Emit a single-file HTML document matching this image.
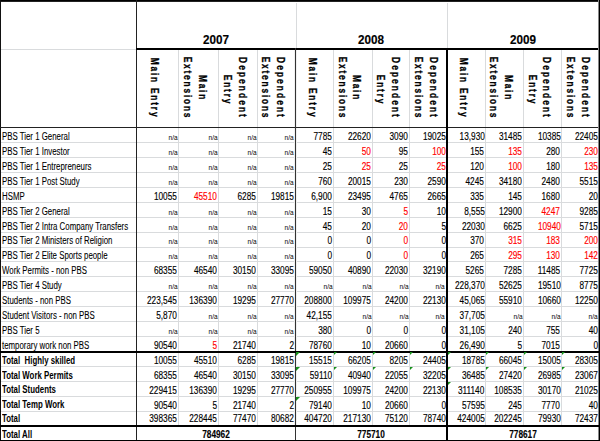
<!DOCTYPE html>
<html><head><meta charset="utf-8"><style>
html,body{margin:0;padding:0;background:#fff;width:600px;height:441px;overflow:hidden;position:relative}
body>div{position:absolute}
.t{font-family:"Liberation Sans", sans-serif;white-space:nowrap;-webkit-text-stroke:0.15px currentColor}
.rot{font-weight:700;line-height:0;transform-origin:0 0;transform:rotate(90deg) scaleX(0.72) translate(-50%,0);letter-spacing:2.45px;-webkit-text-stroke:0.3px currentColor}
</style></head><body>
<div style="left:0px;top:142px;width:600px;height:1px;background:#d9dbdd"></div>
<div style="left:0px;top:157px;width:600px;height:1px;background:#d9dbdd"></div>
<div style="left:0px;top:172px;width:600px;height:1px;background:#d9dbdd"></div>
<div style="left:0px;top:187px;width:600px;height:1px;background:#d9dbdd"></div>
<div style="left:0px;top:202px;width:600px;height:1px;background:#d9dbdd"></div>
<div style="left:0px;top:217px;width:600px;height:1px;background:#d9dbdd"></div>
<div style="left:0px;top:232px;width:600px;height:1px;background:#d9dbdd"></div>
<div style="left:0px;top:247px;width:600px;height:1px;background:#d9dbdd"></div>
<div style="left:0px;top:261px;width:600px;height:1px;background:#d9dbdd"></div>
<div style="left:0px;top:276px;width:600px;height:1px;background:#d9dbdd"></div>
<div style="left:0px;top:291px;width:600px;height:1px;background:#d9dbdd"></div>
<div style="left:0px;top:306px;width:600px;height:1px;background:#d9dbdd"></div>
<div style="left:0px;top:321px;width:600px;height:1px;background:#d9dbdd"></div>
<div style="left:0px;top:336px;width:600px;height:1px;background:#d9dbdd"></div>
<div style="left:0px;top:366px;width:600px;height:1px;background:#d9dbdd"></div>
<div style="left:0px;top:381px;width:600px;height:1px;background:#d9dbdd"></div>
<div style="left:0px;top:396px;width:600px;height:1px;background:#d9dbdd"></div>
<div style="left:0px;top:411px;width:600px;height:1px;background:#d9dbdd"></div>
<div style="left:1px;top:49px;width:135px;height:1px;background:#d9dbdd"></div>
<div style="left:296px;top:3px;width:1px;height:45px;background:#d9dbdd"></div>
<div style="left:447px;top:3px;width:1px;height:45px;background:#d9dbdd"></div>
<div style="left:178px;top:50px;width:1px;height:375px;background:#d9dbdd"></div>
<div style="left:218px;top:50px;width:1px;height:375px;background:#d9dbdd"></div>
<div style="left:257px;top:50px;width:1px;height:375px;background:#d9dbdd"></div>
<div style="left:333px;top:50px;width:1px;height:375px;background:#d9dbdd"></div>
<div style="left:372px;top:50px;width:1px;height:375px;background:#d9dbdd"></div>
<div style="left:409px;top:50px;width:1px;height:375px;background:#d9dbdd"></div>
<div style="left:485px;top:50px;width:1px;height:375px;background:#d9dbdd"></div>
<div style="left:523px;top:50px;width:1px;height:375px;background:#d9dbdd"></div>
<div style="left:561px;top:50px;width:1px;height:375px;background:#d9dbdd"></div>
<div style="left:294px;top:50px;width:1px;height:375px;background:#f0f0f0"></div>
<div style="left:296px;top:50px;width:1px;height:375px;background:#f0f0f0"></div>
<div style="left:0px;top:0px;width:600px;height:1px;background:#000"></div>
<div style="left:0px;top:1px;width:600px;height:1px;background:#222"></div>
<div style="left:0px;top:0px;width:1px;height:441px;background:#111"></div>
<div style="left:136px;top:0px;width:1px;height:441px;background:#222"></div>
<div style="left:136px;top:48px;width:464px;height:2px;background:#000"></div>
<div style="left:0px;top:127px;width:600px;height:1px;background:#222"></div>
<div style="left:295px;top:48px;width:1px;height:393px;background:#333"></div>
<div style="left:446px;top:48px;width:2px;height:393px;background:#000"></div>
<div style="left:599px;top:0px;width:1px;height:441px;background:#000"></div>
<div style="left:598px;top:0px;width:1px;height:441px;background:#888"></div>
<div style="left:0px;top:351px;width:600px;height:2px;background:#000"></div>
<div style="left:0px;top:425px;width:600px;height:2px;background:#000"></div>
<div style="left:0px;top:440px;width:600px;height:1px;background:#000"></div>
<div class="t" style="left:1.5px;top:130.94px;font-size:10.0px;line-height:11.5px;font-weight:400;color:#000;transform:scaleX(0.785);transform-origin:0 0;-webkit-text-stroke:0.08px currentColor">PBS Tier 1 General</div>
<div class="t" style="right:422.7px;top:133.83px;font-size:7.7px;line-height:8.85px;font-weight:400;color:#000;transform:scaleX(0.85);transform-origin:100% 0;-webkit-text-stroke:0px currentColor">n/a</div>
<div class="t" style="right:382.7px;top:133.83px;font-size:7.7px;line-height:8.85px;font-weight:400;color:#000;transform:scaleX(0.85);transform-origin:100% 0;-webkit-text-stroke:0px currentColor">n/a</div>
<div class="t" style="right:343.3px;top:133.83px;font-size:7.7px;line-height:8.85px;font-weight:400;color:#000;transform:scaleX(0.85);transform-origin:100% 0;-webkit-text-stroke:0px currentColor">n/a</div>
<div class="t" style="right:306.8px;top:133.83px;font-size:7.7px;line-height:8.85px;font-weight:400;color:#000;transform:scaleX(0.85);transform-origin:100% 0;-webkit-text-stroke:0px currentColor">n/a</div>
<div class="t" style="right:268.0px;top:130.27px;font-size:10.75px;line-height:12.36px;font-weight:400;color:#000;transform:scaleX(0.77);transform-origin:100% 0">7785</div>
<div class="t" style="right:229.3px;top:130.27px;font-size:10.75px;line-height:12.36px;font-weight:400;color:#000;transform:scaleX(0.77);transform-origin:100% 0">22620</div>
<div class="t" style="right:192.0px;top:130.27px;font-size:10.75px;line-height:12.36px;font-weight:400;color:#000;transform:scaleX(0.77);transform-origin:100% 0">3090</div>
<div class="t" style="right:154.5px;top:130.27px;font-size:10.75px;line-height:12.36px;font-weight:400;color:#000;transform:scaleX(0.77);transform-origin:100% 0">19025</div>
<div class="t" style="right:115.60000000000002px;top:130.27px;font-size:10.75px;line-height:12.36px;font-weight:400;color:#000;transform:scaleX(0.77);transform-origin:100% 0">13,930</div>
<div class="t" style="right:78.0px;top:130.27px;font-size:10.75px;line-height:12.36px;font-weight:400;color:#000;transform:scaleX(0.77);transform-origin:100% 0">31485</div>
<div class="t" style="right:39.60000000000002px;top:130.27px;font-size:10.75px;line-height:12.36px;font-weight:400;color:#000;transform:scaleX(0.77);transform-origin:100% 0">10385</div>
<div class="t" style="right:2.5px;top:130.27px;font-size:10.75px;line-height:12.36px;font-weight:400;color:#000;transform:scaleX(0.77);transform-origin:100% 0">22405</div>
<div class="t" style="left:1.5px;top:145.94px;font-size:10.0px;line-height:11.5px;font-weight:400;color:#000;transform:scaleX(0.785);transform-origin:0 0;-webkit-text-stroke:0.08px currentColor">PBS Tier 1 Investor</div>
<div class="t" style="right:422.7px;top:148.83px;font-size:7.7px;line-height:8.85px;font-weight:400;color:#000;transform:scaleX(0.85);transform-origin:100% 0;-webkit-text-stroke:0px currentColor">n/a</div>
<div class="t" style="right:382.7px;top:148.83px;font-size:7.7px;line-height:8.85px;font-weight:400;color:#000;transform:scaleX(0.85);transform-origin:100% 0;-webkit-text-stroke:0px currentColor">n/a</div>
<div class="t" style="right:343.3px;top:148.83px;font-size:7.7px;line-height:8.85px;font-weight:400;color:#000;transform:scaleX(0.85);transform-origin:100% 0;-webkit-text-stroke:0px currentColor">n/a</div>
<div class="t" style="right:306.8px;top:148.83px;font-size:7.7px;line-height:8.85px;font-weight:400;color:#000;transform:scaleX(0.85);transform-origin:100% 0;-webkit-text-stroke:0px currentColor">n/a</div>
<div class="t" style="right:268.0px;top:145.27px;font-size:10.75px;line-height:12.36px;font-weight:400;color:#000;transform:scaleX(0.77);transform-origin:100% 0">45</div>
<div class="t" style="right:229.3px;top:145.27px;font-size:10.75px;line-height:12.36px;font-weight:400;color:#ff0000;transform:scaleX(0.77);transform-origin:100% 0">50</div>
<div class="t" style="right:192.0px;top:145.27px;font-size:10.75px;line-height:12.36px;font-weight:400;color:#000;transform:scaleX(0.77);transform-origin:100% 0">95</div>
<div class="t" style="right:154.5px;top:145.27px;font-size:10.75px;line-height:12.36px;font-weight:400;color:#ff0000;transform:scaleX(0.77);transform-origin:100% 0">100</div>
<div class="t" style="right:115.60000000000002px;top:145.27px;font-size:10.75px;line-height:12.36px;font-weight:400;color:#000;transform:scaleX(0.77);transform-origin:100% 0">155</div>
<div class="t" style="right:78.0px;top:145.27px;font-size:10.75px;line-height:12.36px;font-weight:400;color:#ff0000;transform:scaleX(0.77);transform-origin:100% 0">135</div>
<div class="t" style="right:39.60000000000002px;top:145.27px;font-size:10.75px;line-height:12.36px;font-weight:400;color:#000;transform:scaleX(0.77);transform-origin:100% 0">280</div>
<div class="t" style="right:2.5px;top:145.27px;font-size:10.75px;line-height:12.36px;font-weight:400;color:#ff0000;transform:scaleX(0.77);transform-origin:100% 0">230</div>
<div class="t" style="left:1.5px;top:160.94px;font-size:10.0px;line-height:11.5px;font-weight:400;color:#000;transform:scaleX(0.785);transform-origin:0 0;-webkit-text-stroke:0.08px currentColor">PBS Tier 1 Entrepreneurs</div>
<div class="t" style="right:422.7px;top:163.83px;font-size:7.7px;line-height:8.85px;font-weight:400;color:#000;transform:scaleX(0.85);transform-origin:100% 0;-webkit-text-stroke:0px currentColor">n/a</div>
<div class="t" style="right:382.7px;top:163.83px;font-size:7.7px;line-height:8.85px;font-weight:400;color:#000;transform:scaleX(0.85);transform-origin:100% 0;-webkit-text-stroke:0px currentColor">n/a</div>
<div class="t" style="right:343.3px;top:163.83px;font-size:7.7px;line-height:8.85px;font-weight:400;color:#000;transform:scaleX(0.85);transform-origin:100% 0;-webkit-text-stroke:0px currentColor">n/a</div>
<div class="t" style="right:306.8px;top:163.83px;font-size:7.7px;line-height:8.85px;font-weight:400;color:#000;transform:scaleX(0.85);transform-origin:100% 0;-webkit-text-stroke:0px currentColor">n/a</div>
<div class="t" style="right:268.0px;top:160.27px;font-size:10.75px;line-height:12.36px;font-weight:400;color:#000;transform:scaleX(0.77);transform-origin:100% 0">25</div>
<div class="t" style="right:229.3px;top:160.27px;font-size:10.75px;line-height:12.36px;font-weight:400;color:#ff0000;transform:scaleX(0.77);transform-origin:100% 0">25</div>
<div class="t" style="right:192.0px;top:160.27px;font-size:10.75px;line-height:12.36px;font-weight:400;color:#000;transform:scaleX(0.77);transform-origin:100% 0">25</div>
<div class="t" style="right:154.5px;top:160.27px;font-size:10.75px;line-height:12.36px;font-weight:400;color:#ff0000;transform:scaleX(0.77);transform-origin:100% 0">25</div>
<div class="t" style="right:115.60000000000002px;top:160.27px;font-size:10.75px;line-height:12.36px;font-weight:400;color:#000;transform:scaleX(0.77);transform-origin:100% 0">120</div>
<div class="t" style="right:78.0px;top:160.27px;font-size:10.75px;line-height:12.36px;font-weight:400;color:#ff0000;transform:scaleX(0.77);transform-origin:100% 0">100</div>
<div class="t" style="right:39.60000000000002px;top:160.27px;font-size:10.75px;line-height:12.36px;font-weight:400;color:#000;transform:scaleX(0.77);transform-origin:100% 0">180</div>
<div class="t" style="right:2.5px;top:160.27px;font-size:10.75px;line-height:12.36px;font-weight:400;color:#ff0000;transform:scaleX(0.77);transform-origin:100% 0">135</div>
<div class="t" style="left:1.5px;top:175.94px;font-size:10.0px;line-height:11.5px;font-weight:400;color:#000;transform:scaleX(0.785);transform-origin:0 0;-webkit-text-stroke:0.08px currentColor">PBS Tier 1 Post Study</div>
<div class="t" style="right:422.7px;top:178.83px;font-size:7.7px;line-height:8.85px;font-weight:400;color:#000;transform:scaleX(0.85);transform-origin:100% 0;-webkit-text-stroke:0px currentColor">n/a</div>
<div class="t" style="right:382.7px;top:178.83px;font-size:7.7px;line-height:8.85px;font-weight:400;color:#000;transform:scaleX(0.85);transform-origin:100% 0;-webkit-text-stroke:0px currentColor">n/a</div>
<div class="t" style="right:343.3px;top:178.83px;font-size:7.7px;line-height:8.85px;font-weight:400;color:#000;transform:scaleX(0.85);transform-origin:100% 0;-webkit-text-stroke:0px currentColor">n/a</div>
<div class="t" style="right:306.8px;top:178.83px;font-size:7.7px;line-height:8.85px;font-weight:400;color:#000;transform:scaleX(0.85);transform-origin:100% 0;-webkit-text-stroke:0px currentColor">n/a</div>
<div class="t" style="right:268.0px;top:175.27px;font-size:10.75px;line-height:12.36px;font-weight:400;color:#000;transform:scaleX(0.77);transform-origin:100% 0">760</div>
<div class="t" style="right:229.3px;top:175.27px;font-size:10.75px;line-height:12.36px;font-weight:400;color:#000;transform:scaleX(0.77);transform-origin:100% 0">20015</div>
<div class="t" style="right:192.0px;top:175.27px;font-size:10.75px;line-height:12.36px;font-weight:400;color:#000;transform:scaleX(0.77);transform-origin:100% 0">230</div>
<div class="t" style="right:154.5px;top:175.27px;font-size:10.75px;line-height:12.36px;font-weight:400;color:#000;transform:scaleX(0.77);transform-origin:100% 0">2590</div>
<div class="t" style="right:115.60000000000002px;top:175.27px;font-size:10.75px;line-height:12.36px;font-weight:400;color:#000;transform:scaleX(0.77);transform-origin:100% 0">4245</div>
<div class="t" style="right:78.0px;top:175.27px;font-size:10.75px;line-height:12.36px;font-weight:400;color:#000;transform:scaleX(0.77);transform-origin:100% 0">34180</div>
<div class="t" style="right:39.60000000000002px;top:175.27px;font-size:10.75px;line-height:12.36px;font-weight:400;color:#000;transform:scaleX(0.77);transform-origin:100% 0">2480</div>
<div class="t" style="right:2.5px;top:175.27px;font-size:10.75px;line-height:12.36px;font-weight:400;color:#000;transform:scaleX(0.77);transform-origin:100% 0">5515</div>
<div class="t" style="left:1.5px;top:190.94px;font-size:10.0px;line-height:11.5px;font-weight:400;color:#000;transform:scaleX(0.785);transform-origin:0 0;-webkit-text-stroke:0.08px currentColor">HSMP</div>
<div class="t" style="right:423.2px;top:190.27px;font-size:10.75px;line-height:12.36px;font-weight:400;color:#000;transform:scaleX(0.77);transform-origin:100% 0">10055</div>
<div class="t" style="right:383.2px;top:190.27px;font-size:10.75px;line-height:12.36px;font-weight:400;color:#ff0000;transform:scaleX(0.77);transform-origin:100% 0">45510</div>
<div class="t" style="right:343.8px;top:190.27px;font-size:10.75px;line-height:12.36px;font-weight:400;color:#000;transform:scaleX(0.77);transform-origin:100% 0">6285</div>
<div class="t" style="right:306.0px;top:190.27px;font-size:10.75px;line-height:12.36px;font-weight:400;color:#000;transform:scaleX(0.77);transform-origin:100% 0">19815</div>
<div class="t" style="right:268.0px;top:190.27px;font-size:10.75px;line-height:12.36px;font-weight:400;color:#000;transform:scaleX(0.77);transform-origin:100% 0">6,900</div>
<div class="t" style="right:229.3px;top:190.27px;font-size:10.75px;line-height:12.36px;font-weight:400;color:#000;transform:scaleX(0.77);transform-origin:100% 0">23495</div>
<div class="t" style="right:192.0px;top:190.27px;font-size:10.75px;line-height:12.36px;font-weight:400;color:#000;transform:scaleX(0.77);transform-origin:100% 0">4765</div>
<div class="t" style="right:154.5px;top:190.27px;font-size:10.75px;line-height:12.36px;font-weight:400;color:#000;transform:scaleX(0.77);transform-origin:100% 0">2665</div>
<div class="t" style="right:115.60000000000002px;top:190.27px;font-size:10.75px;line-height:12.36px;font-weight:400;color:#000;transform:scaleX(0.77);transform-origin:100% 0">335</div>
<div class="t" style="right:78.0px;top:190.27px;font-size:10.75px;line-height:12.36px;font-weight:400;color:#000;transform:scaleX(0.77);transform-origin:100% 0">145</div>
<div class="t" style="right:39.60000000000002px;top:190.27px;font-size:10.75px;line-height:12.36px;font-weight:400;color:#000;transform:scaleX(0.77);transform-origin:100% 0">1680</div>
<div class="t" style="right:2.5px;top:190.27px;font-size:10.75px;line-height:12.36px;font-weight:400;color:#000;transform:scaleX(0.77);transform-origin:100% 0">20</div>
<div class="t" style="left:1.5px;top:205.94px;font-size:10.0px;line-height:11.5px;font-weight:400;color:#000;transform:scaleX(0.785);transform-origin:0 0;-webkit-text-stroke:0.08px currentColor">PBS Tier 2 General</div>
<div class="t" style="right:422.7px;top:208.83px;font-size:7.7px;line-height:8.85px;font-weight:400;color:#000;transform:scaleX(0.85);transform-origin:100% 0;-webkit-text-stroke:0px currentColor">n/a</div>
<div class="t" style="right:382.7px;top:208.83px;font-size:7.7px;line-height:8.85px;font-weight:400;color:#000;transform:scaleX(0.85);transform-origin:100% 0;-webkit-text-stroke:0px currentColor">n/a</div>
<div class="t" style="right:343.3px;top:208.83px;font-size:7.7px;line-height:8.85px;font-weight:400;color:#000;transform:scaleX(0.85);transform-origin:100% 0;-webkit-text-stroke:0px currentColor">n/a</div>
<div class="t" style="right:306.8px;top:208.83px;font-size:7.7px;line-height:8.85px;font-weight:400;color:#000;transform:scaleX(0.85);transform-origin:100% 0;-webkit-text-stroke:0px currentColor">n/a</div>
<div class="t" style="right:268.0px;top:205.27px;font-size:10.75px;line-height:12.36px;font-weight:400;color:#000;transform:scaleX(0.77);transform-origin:100% 0">15</div>
<div class="t" style="right:229.3px;top:205.27px;font-size:10.75px;line-height:12.36px;font-weight:400;color:#000;transform:scaleX(0.77);transform-origin:100% 0">30</div>
<div class="t" style="right:192.0px;top:205.27px;font-size:10.75px;line-height:12.36px;font-weight:400;color:#ff0000;transform:scaleX(0.77);transform-origin:100% 0">5</div>
<div class="t" style="right:154.5px;top:205.27px;font-size:10.75px;line-height:12.36px;font-weight:400;color:#000;transform:scaleX(0.77);transform-origin:100% 0">10</div>
<div class="t" style="right:115.60000000000002px;top:205.27px;font-size:10.75px;line-height:12.36px;font-weight:400;color:#000;transform:scaleX(0.77);transform-origin:100% 0">8,555</div>
<div class="t" style="right:78.0px;top:205.27px;font-size:10.75px;line-height:12.36px;font-weight:400;color:#000;transform:scaleX(0.77);transform-origin:100% 0">12900</div>
<div class="t" style="right:39.60000000000002px;top:205.27px;font-size:10.75px;line-height:12.36px;font-weight:400;color:#ff0000;transform:scaleX(0.77);transform-origin:100% 0">4247</div>
<div class="t" style="right:2.5px;top:205.27px;font-size:10.75px;line-height:12.36px;font-weight:400;color:#000;transform:scaleX(0.77);transform-origin:100% 0">9285</div>
<div class="t" style="left:1.5px;top:220.94px;font-size:10.0px;line-height:11.5px;font-weight:400;color:#000;transform:scaleX(0.785);transform-origin:0 0;-webkit-text-stroke:0.08px currentColor">PBS Tier 2 Intra Company Transfers</div>
<div class="t" style="right:422.7px;top:223.83px;font-size:7.7px;line-height:8.85px;font-weight:400;color:#000;transform:scaleX(0.85);transform-origin:100% 0;-webkit-text-stroke:0px currentColor">n/a</div>
<div class="t" style="right:382.7px;top:223.83px;font-size:7.7px;line-height:8.85px;font-weight:400;color:#000;transform:scaleX(0.85);transform-origin:100% 0;-webkit-text-stroke:0px currentColor">n/a</div>
<div class="t" style="right:343.3px;top:223.83px;font-size:7.7px;line-height:8.85px;font-weight:400;color:#000;transform:scaleX(0.85);transform-origin:100% 0;-webkit-text-stroke:0px currentColor">n/a</div>
<div class="t" style="right:306.8px;top:223.83px;font-size:7.7px;line-height:8.85px;font-weight:400;color:#000;transform:scaleX(0.85);transform-origin:100% 0;-webkit-text-stroke:0px currentColor">n/a</div>
<div class="t" style="right:268.0px;top:220.27px;font-size:10.75px;line-height:12.36px;font-weight:400;color:#000;transform:scaleX(0.77);transform-origin:100% 0">45</div>
<div class="t" style="right:229.3px;top:220.27px;font-size:10.75px;line-height:12.36px;font-weight:400;color:#000;transform:scaleX(0.77);transform-origin:100% 0">20</div>
<div class="t" style="right:192.0px;top:220.27px;font-size:10.75px;line-height:12.36px;font-weight:400;color:#ff0000;transform:scaleX(0.77);transform-origin:100% 0">20</div>
<div class="t" style="right:154.5px;top:220.27px;font-size:10.75px;line-height:12.36px;font-weight:400;color:#000;transform:scaleX(0.77);transform-origin:100% 0">5</div>
<div class="t" style="right:115.60000000000002px;top:220.27px;font-size:10.75px;line-height:12.36px;font-weight:400;color:#000;transform:scaleX(0.77);transform-origin:100% 0">22030</div>
<div class="t" style="right:78.0px;top:220.27px;font-size:10.75px;line-height:12.36px;font-weight:400;color:#000;transform:scaleX(0.77);transform-origin:100% 0">6625</div>
<div class="t" style="right:39.60000000000002px;top:220.27px;font-size:10.75px;line-height:12.36px;font-weight:400;color:#ff0000;transform:scaleX(0.77);transform-origin:100% 0">10940</div>
<div class="t" style="right:2.5px;top:220.27px;font-size:10.75px;line-height:12.36px;font-weight:400;color:#000;transform:scaleX(0.77);transform-origin:100% 0">5715</div>
<div class="t" style="left:1.5px;top:234.94px;font-size:10.0px;line-height:11.5px;font-weight:400;color:#000;transform:scaleX(0.785);transform-origin:0 0;-webkit-text-stroke:0.08px currentColor">PBS Tier 2 Ministers of Religion</div>
<div class="t" style="right:422.7px;top:237.83px;font-size:7.7px;line-height:8.85px;font-weight:400;color:#000;transform:scaleX(0.85);transform-origin:100% 0;-webkit-text-stroke:0px currentColor">n/a</div>
<div class="t" style="right:382.7px;top:237.83px;font-size:7.7px;line-height:8.85px;font-weight:400;color:#000;transform:scaleX(0.85);transform-origin:100% 0;-webkit-text-stroke:0px currentColor">n/a</div>
<div class="t" style="right:343.3px;top:237.83px;font-size:7.7px;line-height:8.85px;font-weight:400;color:#000;transform:scaleX(0.85);transform-origin:100% 0;-webkit-text-stroke:0px currentColor">n/a</div>
<div class="t" style="right:306.8px;top:237.83px;font-size:7.7px;line-height:8.85px;font-weight:400;color:#000;transform:scaleX(0.85);transform-origin:100% 0;-webkit-text-stroke:0px currentColor">n/a</div>
<div class="t" style="right:268.0px;top:234.27px;font-size:10.75px;line-height:12.36px;font-weight:400;color:#000;transform:scaleX(0.77);transform-origin:100% 0">0</div>
<div class="t" style="right:229.3px;top:234.27px;font-size:10.75px;line-height:12.36px;font-weight:400;color:#000;transform:scaleX(0.77);transform-origin:100% 0">0</div>
<div class="t" style="right:192.0px;top:234.27px;font-size:10.75px;line-height:12.36px;font-weight:400;color:#ff0000;transform:scaleX(0.77);transform-origin:100% 0">0</div>
<div class="t" style="right:154.5px;top:234.27px;font-size:10.75px;line-height:12.36px;font-weight:400;color:#000;transform:scaleX(0.77);transform-origin:100% 0">0</div>
<div class="t" style="right:115.60000000000002px;top:234.27px;font-size:10.75px;line-height:12.36px;font-weight:400;color:#000;transform:scaleX(0.77);transform-origin:100% 0">370</div>
<div class="t" style="right:78.0px;top:234.27px;font-size:10.75px;line-height:12.36px;font-weight:400;color:#ff0000;transform:scaleX(0.77);transform-origin:100% 0">315</div>
<div class="t" style="right:39.60000000000002px;top:234.27px;font-size:10.75px;line-height:12.36px;font-weight:400;color:#ff0000;transform:scaleX(0.77);transform-origin:100% 0">183</div>
<div class="t" style="right:2.5px;top:234.27px;font-size:10.75px;line-height:12.36px;font-weight:400;color:#ff0000;transform:scaleX(0.77);transform-origin:100% 0">200</div>
<div class="t" style="left:1.5px;top:249.94px;font-size:10.0px;line-height:11.5px;font-weight:400;color:#000;transform:scaleX(0.785);transform-origin:0 0;-webkit-text-stroke:0.08px currentColor">PBS Tier 2 Elite Sports people</div>
<div class="t" style="right:422.7px;top:252.83px;font-size:7.7px;line-height:8.85px;font-weight:400;color:#000;transform:scaleX(0.85);transform-origin:100% 0;-webkit-text-stroke:0px currentColor">n/a</div>
<div class="t" style="right:382.7px;top:252.83px;font-size:7.7px;line-height:8.85px;font-weight:400;color:#000;transform:scaleX(0.85);transform-origin:100% 0;-webkit-text-stroke:0px currentColor">n/a</div>
<div class="t" style="right:343.3px;top:252.83px;font-size:7.7px;line-height:8.85px;font-weight:400;color:#000;transform:scaleX(0.85);transform-origin:100% 0;-webkit-text-stroke:0px currentColor">n/a</div>
<div class="t" style="right:306.8px;top:252.83px;font-size:7.7px;line-height:8.85px;font-weight:400;color:#000;transform:scaleX(0.85);transform-origin:100% 0;-webkit-text-stroke:0px currentColor">n/a</div>
<div class="t" style="right:268.0px;top:249.27px;font-size:10.75px;line-height:12.36px;font-weight:400;color:#000;transform:scaleX(0.77);transform-origin:100% 0">0</div>
<div class="t" style="right:229.3px;top:249.27px;font-size:10.75px;line-height:12.36px;font-weight:400;color:#000;transform:scaleX(0.77);transform-origin:100% 0">0</div>
<div class="t" style="right:192.0px;top:249.27px;font-size:10.75px;line-height:12.36px;font-weight:400;color:#ff0000;transform:scaleX(0.77);transform-origin:100% 0">0</div>
<div class="t" style="right:154.5px;top:249.27px;font-size:10.75px;line-height:12.36px;font-weight:400;color:#000;transform:scaleX(0.77);transform-origin:100% 0">0</div>
<div class="t" style="right:115.60000000000002px;top:249.27px;font-size:10.75px;line-height:12.36px;font-weight:400;color:#000;transform:scaleX(0.77);transform-origin:100% 0">265</div>
<div class="t" style="right:78.0px;top:249.27px;font-size:10.75px;line-height:12.36px;font-weight:400;color:#ff0000;transform:scaleX(0.77);transform-origin:100% 0">295</div>
<div class="t" style="right:39.60000000000002px;top:249.27px;font-size:10.75px;line-height:12.36px;font-weight:400;color:#ff0000;transform:scaleX(0.77);transform-origin:100% 0">130</div>
<div class="t" style="right:2.5px;top:249.27px;font-size:10.75px;line-height:12.36px;font-weight:400;color:#ff0000;transform:scaleX(0.77);transform-origin:100% 0">142</div>
<div class="t" style="left:1.5px;top:264.94px;font-size:10.0px;line-height:11.5px;font-weight:400;color:#000;transform:scaleX(0.785);transform-origin:0 0;-webkit-text-stroke:0.08px currentColor">Work Permits - non PBS</div>
<div class="t" style="right:423.2px;top:264.27px;font-size:10.75px;line-height:12.36px;font-weight:400;color:#000;transform:scaleX(0.77);transform-origin:100% 0">68355</div>
<div class="t" style="right:383.2px;top:264.27px;font-size:10.75px;line-height:12.36px;font-weight:400;color:#000;transform:scaleX(0.77);transform-origin:100% 0">46540</div>
<div class="t" style="right:343.8px;top:264.27px;font-size:10.75px;line-height:12.36px;font-weight:400;color:#000;transform:scaleX(0.77);transform-origin:100% 0">30150</div>
<div class="t" style="right:306.0px;top:264.27px;font-size:10.75px;line-height:12.36px;font-weight:400;color:#000;transform:scaleX(0.77);transform-origin:100% 0">33095</div>
<div class="t" style="right:268.0px;top:264.27px;font-size:10.75px;line-height:12.36px;font-weight:400;color:#000;transform:scaleX(0.77);transform-origin:100% 0">59050</div>
<div class="t" style="right:229.3px;top:264.27px;font-size:10.75px;line-height:12.36px;font-weight:400;color:#000;transform:scaleX(0.77);transform-origin:100% 0">40890</div>
<div class="t" style="right:192.0px;top:264.27px;font-size:10.75px;line-height:12.36px;font-weight:400;color:#000;transform:scaleX(0.77);transform-origin:100% 0">22030</div>
<div class="t" style="right:154.5px;top:264.27px;font-size:10.75px;line-height:12.36px;font-weight:400;color:#000;transform:scaleX(0.77);transform-origin:100% 0">32190</div>
<div class="t" style="right:115.60000000000002px;top:264.27px;font-size:10.75px;line-height:12.36px;font-weight:400;color:#000;transform:scaleX(0.77);transform-origin:100% 0">5265</div>
<div class="t" style="right:78.0px;top:264.27px;font-size:10.75px;line-height:12.36px;font-weight:400;color:#000;transform:scaleX(0.77);transform-origin:100% 0">7285</div>
<div class="t" style="right:39.60000000000002px;top:264.27px;font-size:10.75px;line-height:12.36px;font-weight:400;color:#000;transform:scaleX(0.77);transform-origin:100% 0">11485</div>
<div class="t" style="right:2.5px;top:264.27px;font-size:10.75px;line-height:12.36px;font-weight:400;color:#000;transform:scaleX(0.77);transform-origin:100% 0">7725</div>
<div class="t" style="left:1.5px;top:279.94px;font-size:10.0px;line-height:11.5px;font-weight:400;color:#000;transform:scaleX(0.785);transform-origin:0 0;-webkit-text-stroke:0.08px currentColor">PBS Tier 4 Study</div>
<div class="t" style="right:422.7px;top:282.83px;font-size:7.7px;line-height:8.85px;font-weight:400;color:#000;transform:scaleX(0.85);transform-origin:100% 0;-webkit-text-stroke:0px currentColor">n/a</div>
<div class="t" style="right:382.7px;top:282.83px;font-size:7.7px;line-height:8.85px;font-weight:400;color:#000;transform:scaleX(0.85);transform-origin:100% 0;-webkit-text-stroke:0px currentColor">n/a</div>
<div class="t" style="right:343.3px;top:282.83px;font-size:7.7px;line-height:8.85px;font-weight:400;color:#000;transform:scaleX(0.85);transform-origin:100% 0;-webkit-text-stroke:0px currentColor">n/a</div>
<div class="t" style="right:306.8px;top:282.83px;font-size:7.7px;line-height:8.85px;font-weight:400;color:#000;transform:scaleX(0.85);transform-origin:100% 0;-webkit-text-stroke:0px currentColor">n/a</div>
<div class="t" style="right:267.5px;top:282.83px;font-size:7.7px;line-height:8.85px;font-weight:400;color:#000;transform:scaleX(0.85);transform-origin:100% 0;-webkit-text-stroke:0px currentColor">n/a</div>
<div class="t" style="right:228.8px;top:282.83px;font-size:7.7px;line-height:8.85px;font-weight:400;color:#000;transform:scaleX(0.85);transform-origin:100% 0;-webkit-text-stroke:0px currentColor">n/a</div>
<div class="t" style="right:191.5px;top:282.83px;font-size:7.7px;line-height:8.85px;font-weight:400;color:#000;transform:scaleX(0.85);transform-origin:100% 0;-webkit-text-stroke:0px currentColor">n/a</div>
<div class="t" style="right:155.3px;top:282.83px;font-size:7.7px;line-height:8.85px;font-weight:400;color:#000;transform:scaleX(0.85);transform-origin:100% 0;-webkit-text-stroke:0px currentColor">n/a</div>
<div class="t" style="right:115.60000000000002px;top:279.27px;font-size:10.75px;line-height:12.36px;font-weight:400;color:#000;transform:scaleX(0.77);transform-origin:100% 0">228,370</div>
<div class="t" style="right:78.0px;top:279.27px;font-size:10.75px;line-height:12.36px;font-weight:400;color:#000;transform:scaleX(0.77);transform-origin:100% 0">52625</div>
<div class="t" style="right:39.60000000000002px;top:279.27px;font-size:10.75px;line-height:12.36px;font-weight:400;color:#000;transform:scaleX(0.77);transform-origin:100% 0">19510</div>
<div class="t" style="right:2.5px;top:279.27px;font-size:10.75px;line-height:12.36px;font-weight:400;color:#000;transform:scaleX(0.77);transform-origin:100% 0">8775</div>
<div class="t" style="left:1.5px;top:294.94px;font-size:10.0px;line-height:11.5px;font-weight:400;color:#000;transform:scaleX(0.785);transform-origin:0 0;-webkit-text-stroke:0.08px currentColor">Students - non PBS</div>
<div class="t" style="right:423.2px;top:294.27px;font-size:10.75px;line-height:12.36px;font-weight:400;color:#000;transform:scaleX(0.77);transform-origin:100% 0">223,545</div>
<div class="t" style="right:383.2px;top:294.27px;font-size:10.75px;line-height:12.36px;font-weight:400;color:#000;transform:scaleX(0.77);transform-origin:100% 0">136390</div>
<div class="t" style="right:343.8px;top:294.27px;font-size:10.75px;line-height:12.36px;font-weight:400;color:#000;transform:scaleX(0.77);transform-origin:100% 0">19295</div>
<div class="t" style="right:306.0px;top:294.27px;font-size:10.75px;line-height:12.36px;font-weight:400;color:#000;transform:scaleX(0.77);transform-origin:100% 0">27770</div>
<div class="t" style="right:268.0px;top:294.27px;font-size:10.75px;line-height:12.36px;font-weight:400;color:#000;transform:scaleX(0.77);transform-origin:100% 0">208800</div>
<div class="t" style="right:229.3px;top:294.27px;font-size:10.75px;line-height:12.36px;font-weight:400;color:#000;transform:scaleX(0.77);transform-origin:100% 0">109975</div>
<div class="t" style="right:192.0px;top:294.27px;font-size:10.75px;line-height:12.36px;font-weight:400;color:#000;transform:scaleX(0.77);transform-origin:100% 0">24200</div>
<div class="t" style="right:154.5px;top:294.27px;font-size:10.75px;line-height:12.36px;font-weight:400;color:#000;transform:scaleX(0.77);transform-origin:100% 0">22130</div>
<div class="t" style="right:115.60000000000002px;top:294.27px;font-size:10.75px;line-height:12.36px;font-weight:400;color:#000;transform:scaleX(0.77);transform-origin:100% 0">45,065</div>
<div class="t" style="right:78.0px;top:294.27px;font-size:10.75px;line-height:12.36px;font-weight:400;color:#000;transform:scaleX(0.77);transform-origin:100% 0">55910</div>
<div class="t" style="right:39.60000000000002px;top:294.27px;font-size:10.75px;line-height:12.36px;font-weight:400;color:#000;transform:scaleX(0.77);transform-origin:100% 0">10660</div>
<div class="t" style="right:2.5px;top:294.27px;font-size:10.75px;line-height:12.36px;font-weight:400;color:#000;transform:scaleX(0.77);transform-origin:100% 0">12250</div>
<div class="t" style="left:1.5px;top:309.94px;font-size:10.0px;line-height:11.5px;font-weight:400;color:#000;transform:scaleX(0.785);transform-origin:0 0;-webkit-text-stroke:0.08px currentColor">Student Visitors - non PBS</div>
<div class="t" style="right:423.2px;top:309.27px;font-size:10.75px;line-height:12.36px;font-weight:400;color:#000;transform:scaleX(0.77);transform-origin:100% 0">5,870</div>
<div class="t" style="right:382.7px;top:312.83px;font-size:7.7px;line-height:8.85px;font-weight:400;color:#000;transform:scaleX(0.85);transform-origin:100% 0;-webkit-text-stroke:0px currentColor">n/a</div>
<div class="t" style="right:343.3px;top:312.83px;font-size:7.7px;line-height:8.85px;font-weight:400;color:#000;transform:scaleX(0.85);transform-origin:100% 0;-webkit-text-stroke:0px currentColor">n/a</div>
<div class="t" style="right:306.8px;top:312.83px;font-size:7.7px;line-height:8.85px;font-weight:400;color:#000;transform:scaleX(0.85);transform-origin:100% 0;-webkit-text-stroke:0px currentColor">n/a</div>
<div class="t" style="right:268.0px;top:309.27px;font-size:10.75px;line-height:12.36px;font-weight:400;color:#000;transform:scaleX(0.77);transform-origin:100% 0">42,155</div>
<div class="t" style="right:228.8px;top:312.83px;font-size:7.7px;line-height:8.85px;font-weight:400;color:#000;transform:scaleX(0.85);transform-origin:100% 0;-webkit-text-stroke:0px currentColor">n/a</div>
<div class="t" style="right:191.5px;top:312.83px;font-size:7.7px;line-height:8.85px;font-weight:400;color:#000;transform:scaleX(0.85);transform-origin:100% 0;-webkit-text-stroke:0px currentColor">n/a</div>
<div class="t" style="right:155.3px;top:312.83px;font-size:7.7px;line-height:8.85px;font-weight:400;color:#000;transform:scaleX(0.85);transform-origin:100% 0;-webkit-text-stroke:0px currentColor">n/a</div>
<div class="t" style="right:115.60000000000002px;top:309.27px;font-size:10.75px;line-height:12.36px;font-weight:400;color:#000;transform:scaleX(0.77);transform-origin:100% 0">37,705</div>
<div class="t" style="right:77.5px;top:312.83px;font-size:7.7px;line-height:8.85px;font-weight:400;color:#000;transform:scaleX(0.85);transform-origin:100% 0;-webkit-text-stroke:0px currentColor">n/a</div>
<div class="t" style="right:39.10000000000002px;top:312.83px;font-size:7.7px;line-height:8.85px;font-weight:400;color:#000;transform:scaleX(0.85);transform-origin:100% 0;-webkit-text-stroke:0px currentColor">n/a</div>
<div class="t" style="right:2.0px;top:312.83px;font-size:7.7px;line-height:8.85px;font-weight:400;color:#000;transform:scaleX(0.85);transform-origin:100% 0;-webkit-text-stroke:0px currentColor">n/a</div>
<div class="t" style="left:1.5px;top:324.94px;font-size:10.0px;line-height:11.5px;font-weight:400;color:#000;transform:scaleX(0.785);transform-origin:0 0;-webkit-text-stroke:0.08px currentColor">PBS Tier 5</div>
<div class="t" style="right:422.7px;top:327.83px;font-size:7.7px;line-height:8.85px;font-weight:400;color:#000;transform:scaleX(0.85);transform-origin:100% 0;-webkit-text-stroke:0px currentColor">n/a</div>
<div class="t" style="right:382.7px;top:327.83px;font-size:7.7px;line-height:8.85px;font-weight:400;color:#000;transform:scaleX(0.85);transform-origin:100% 0;-webkit-text-stroke:0px currentColor">n/a</div>
<div class="t" style="right:343.3px;top:327.83px;font-size:7.7px;line-height:8.85px;font-weight:400;color:#000;transform:scaleX(0.85);transform-origin:100% 0;-webkit-text-stroke:0px currentColor">n/a</div>
<div class="t" style="right:306.8px;top:327.83px;font-size:7.7px;line-height:8.85px;font-weight:400;color:#000;transform:scaleX(0.85);transform-origin:100% 0;-webkit-text-stroke:0px currentColor">n/a</div>
<div class="t" style="right:268.0px;top:324.27px;font-size:10.75px;line-height:12.36px;font-weight:400;color:#000;transform:scaleX(0.77);transform-origin:100% 0">380</div>
<div class="t" style="right:229.3px;top:324.27px;font-size:10.75px;line-height:12.36px;font-weight:400;color:#000;transform:scaleX(0.77);transform-origin:100% 0">0</div>
<div class="t" style="right:192.0px;top:324.27px;font-size:10.75px;line-height:12.36px;font-weight:400;color:#000;transform:scaleX(0.77);transform-origin:100% 0">0</div>
<div class="t" style="right:154.5px;top:324.27px;font-size:10.75px;line-height:12.36px;font-weight:400;color:#000;transform:scaleX(0.77);transform-origin:100% 0">0</div>
<div class="t" style="right:115.60000000000002px;top:324.27px;font-size:10.75px;line-height:12.36px;font-weight:400;color:#000;transform:scaleX(0.77);transform-origin:100% 0">31,105</div>
<div class="t" style="right:78.0px;top:324.27px;font-size:10.75px;line-height:12.36px;font-weight:400;color:#000;transform:scaleX(0.77);transform-origin:100% 0">240</div>
<div class="t" style="right:39.60000000000002px;top:324.27px;font-size:10.75px;line-height:12.36px;font-weight:400;color:#000;transform:scaleX(0.77);transform-origin:100% 0">755</div>
<div class="t" style="right:2.5px;top:324.27px;font-size:10.75px;line-height:12.36px;font-weight:400;color:#000;transform:scaleX(0.77);transform-origin:100% 0">40</div>
<div class="t" style="left:1.5px;top:339.94px;font-size:10.0px;line-height:11.5px;font-weight:400;color:#000;transform:scaleX(0.785);transform-origin:0 0;-webkit-text-stroke:0.08px currentColor">temporary work non PBS</div>
<div class="t" style="right:423.2px;top:339.27px;font-size:10.75px;line-height:12.36px;font-weight:400;color:#000;transform:scaleX(0.77);transform-origin:100% 0">90540</div>
<div class="t" style="right:383.2px;top:339.27px;font-size:10.75px;line-height:12.36px;font-weight:400;color:#ff0000;transform:scaleX(0.77);transform-origin:100% 0">5</div>
<div class="t" style="right:343.8px;top:339.27px;font-size:10.75px;line-height:12.36px;font-weight:400;color:#000;transform:scaleX(0.77);transform-origin:100% 0">21740</div>
<div class="t" style="right:306.0px;top:339.27px;font-size:10.75px;line-height:12.36px;font-weight:400;color:#000;transform:scaleX(0.77);transform-origin:100% 0">2</div>
<div class="t" style="right:268.0px;top:339.27px;font-size:10.75px;line-height:12.36px;font-weight:400;color:#000;transform:scaleX(0.77);transform-origin:100% 0">78760</div>
<div class="t" style="right:229.3px;top:339.27px;font-size:10.75px;line-height:12.36px;font-weight:400;color:#000;transform:scaleX(0.77);transform-origin:100% 0">10</div>
<div class="t" style="right:192.0px;top:339.27px;font-size:10.75px;line-height:12.36px;font-weight:400;color:#000;transform:scaleX(0.77);transform-origin:100% 0">20660</div>
<div class="t" style="right:154.5px;top:339.27px;font-size:10.75px;line-height:12.36px;font-weight:400;color:#000;transform:scaleX(0.77);transform-origin:100% 0">0</div>
<div class="t" style="right:115.60000000000002px;top:339.27px;font-size:10.75px;line-height:12.36px;font-weight:400;color:#000;transform:scaleX(0.77);transform-origin:100% 0">26,490</div>
<div class="t" style="right:78.0px;top:339.27px;font-size:10.75px;line-height:12.36px;font-weight:400;color:#000;transform:scaleX(0.77);transform-origin:100% 0">5</div>
<div class="t" style="right:39.60000000000002px;top:339.27px;font-size:10.75px;line-height:12.36px;font-weight:400;color:#000;transform:scaleX(0.77);transform-origin:100% 0">7015</div>
<div class="t" style="right:2.5px;top:339.27px;font-size:10.75px;line-height:12.36px;font-weight:400;color:#000;transform:scaleX(0.77);transform-origin:100% 0">0</div>
<div class="t" style="left:2px;top:355.14px;font-size:10.0px;line-height:11.5px;font-weight:700;color:#000;transform:scaleX(0.785);transform-origin:0 0;-webkit-text-stroke:0px currentColor">Total&nbsp; Highly skilled</div>
<div class="t" style="right:423.2px;top:354.47px;font-size:10.75px;line-height:12.36px;font-weight:400;color:#000;transform:scaleX(0.77);transform-origin:100% 0">10055</div>
<div class="t" style="right:383.2px;top:354.47px;font-size:10.75px;line-height:12.36px;font-weight:400;color:#000;transform:scaleX(0.77);transform-origin:100% 0">45510</div>
<div class="t" style="right:343.8px;top:354.47px;font-size:10.75px;line-height:12.36px;font-weight:400;color:#000;transform:scaleX(0.77);transform-origin:100% 0">6285</div>
<div class="t" style="right:306.0px;top:354.47px;font-size:10.75px;line-height:12.36px;font-weight:400;color:#000;transform:scaleX(0.77);transform-origin:100% 0">19815</div>
<div class="t" style="right:268.0px;top:354.47px;font-size:10.75px;line-height:12.36px;font-weight:400;color:#000;transform:scaleX(0.77);transform-origin:100% 0">15515</div>
<div class="t" style="right:229.3px;top:354.47px;font-size:10.75px;line-height:12.36px;font-weight:400;color:#000;transform:scaleX(0.77);transform-origin:100% 0">66205</div>
<div class="t" style="right:192.0px;top:354.47px;font-size:10.75px;line-height:12.36px;font-weight:400;color:#000;transform:scaleX(0.77);transform-origin:100% 0">8205</div>
<div class="t" style="right:154.5px;top:354.47px;font-size:10.75px;line-height:12.36px;font-weight:400;color:#000;transform:scaleX(0.77);transform-origin:100% 0">24405</div>
<div class="t" style="right:115.60000000000002px;top:354.47px;font-size:10.75px;line-height:12.36px;font-weight:400;color:#000;transform:scaleX(0.77);transform-origin:100% 0">18785</div>
<div class="t" style="right:78.0px;top:354.47px;font-size:10.75px;line-height:12.36px;font-weight:400;color:#000;transform:scaleX(0.77);transform-origin:100% 0">66045</div>
<div class="t" style="right:39.60000000000002px;top:354.47px;font-size:10.75px;line-height:12.36px;font-weight:400;color:#000;transform:scaleX(0.77);transform-origin:100% 0">15005</div>
<div class="t" style="right:2.5px;top:354.47px;font-size:10.75px;line-height:12.36px;font-weight:400;color:#000;transform:scaleX(0.77);transform-origin:100% 0">28305</div>
<div class="t" style="left:2px;top:369.75px;font-size:10.0px;line-height:11.5px;font-weight:700;color:#000;transform:scaleX(0.785);transform-origin:0 0;-webkit-text-stroke:0px currentColor">Total Work Permits</div>
<div class="t" style="right:423.2px;top:369.07px;font-size:10.75px;line-height:12.36px;font-weight:400;color:#000;transform:scaleX(0.77);transform-origin:100% 0">68355</div>
<div class="t" style="right:383.2px;top:369.07px;font-size:10.75px;line-height:12.36px;font-weight:400;color:#000;transform:scaleX(0.77);transform-origin:100% 0">46540</div>
<div class="t" style="right:343.8px;top:369.07px;font-size:10.75px;line-height:12.36px;font-weight:400;color:#000;transform:scaleX(0.77);transform-origin:100% 0">30150</div>
<div class="t" style="right:306.0px;top:369.07px;font-size:10.75px;line-height:12.36px;font-weight:400;color:#000;transform:scaleX(0.77);transform-origin:100% 0">33095</div>
<div class="t" style="right:268.0px;top:369.07px;font-size:10.75px;line-height:12.36px;font-weight:400;color:#000;transform:scaleX(0.77);transform-origin:100% 0">59110</div>
<div class="t" style="right:229.3px;top:369.07px;font-size:10.75px;line-height:12.36px;font-weight:400;color:#000;transform:scaleX(0.77);transform-origin:100% 0">40940</div>
<div class="t" style="right:192.0px;top:369.07px;font-size:10.75px;line-height:12.36px;font-weight:400;color:#000;transform:scaleX(0.77);transform-origin:100% 0">22055</div>
<div class="t" style="right:154.5px;top:369.07px;font-size:10.75px;line-height:12.36px;font-weight:400;color:#000;transform:scaleX(0.77);transform-origin:100% 0">32205</div>
<div class="t" style="right:115.60000000000002px;top:369.07px;font-size:10.75px;line-height:12.36px;font-weight:400;color:#000;transform:scaleX(0.77);transform-origin:100% 0">36485</div>
<div class="t" style="right:78.0px;top:369.07px;font-size:10.75px;line-height:12.36px;font-weight:400;color:#000;transform:scaleX(0.77);transform-origin:100% 0">27420</div>
<div class="t" style="right:39.60000000000002px;top:369.07px;font-size:10.75px;line-height:12.36px;font-weight:400;color:#000;transform:scaleX(0.77);transform-origin:100% 0">26985</div>
<div class="t" style="right:2.5px;top:369.07px;font-size:10.75px;line-height:12.36px;font-weight:400;color:#000;transform:scaleX(0.77);transform-origin:100% 0">23067</div>
<div class="t" style="left:2px;top:384.44px;font-size:10.0px;line-height:11.5px;font-weight:700;color:#000;transform:scaleX(0.785);transform-origin:0 0;-webkit-text-stroke:0px currentColor">Total Students</div>
<div class="t" style="right:423.2px;top:383.77px;font-size:10.75px;line-height:12.36px;font-weight:400;color:#000;transform:scaleX(0.77);transform-origin:100% 0">229415</div>
<div class="t" style="right:383.2px;top:383.77px;font-size:10.75px;line-height:12.36px;font-weight:400;color:#000;transform:scaleX(0.77);transform-origin:100% 0">136390</div>
<div class="t" style="right:343.8px;top:383.77px;font-size:10.75px;line-height:12.36px;font-weight:400;color:#000;transform:scaleX(0.77);transform-origin:100% 0">19295</div>
<div class="t" style="right:306.0px;top:383.77px;font-size:10.75px;line-height:12.36px;font-weight:400;color:#000;transform:scaleX(0.77);transform-origin:100% 0">27770</div>
<div class="t" style="right:268.0px;top:383.77px;font-size:10.75px;line-height:12.36px;font-weight:400;color:#000;transform:scaleX(0.77);transform-origin:100% 0">250955</div>
<div class="t" style="right:229.3px;top:383.77px;font-size:10.75px;line-height:12.36px;font-weight:400;color:#000;transform:scaleX(0.77);transform-origin:100% 0">109975</div>
<div class="t" style="right:192.0px;top:383.77px;font-size:10.75px;line-height:12.36px;font-weight:400;color:#000;transform:scaleX(0.77);transform-origin:100% 0">24200</div>
<div class="t" style="right:154.5px;top:383.77px;font-size:10.75px;line-height:12.36px;font-weight:400;color:#000;transform:scaleX(0.77);transform-origin:100% 0">22130</div>
<div class="t" style="right:115.60000000000002px;top:383.77px;font-size:10.75px;line-height:12.36px;font-weight:400;color:#000;transform:scaleX(0.77);transform-origin:100% 0">311140</div>
<div class="t" style="right:78.0px;top:383.77px;font-size:10.75px;line-height:12.36px;font-weight:400;color:#000;transform:scaleX(0.77);transform-origin:100% 0">108535</div>
<div class="t" style="right:39.60000000000002px;top:383.77px;font-size:10.75px;line-height:12.36px;font-weight:400;color:#000;transform:scaleX(0.77);transform-origin:100% 0">30170</div>
<div class="t" style="right:2.5px;top:383.77px;font-size:10.75px;line-height:12.36px;font-weight:400;color:#000;transform:scaleX(0.77);transform-origin:100% 0">21025</div>
<div class="t" style="left:2px;top:399.44px;font-size:10.0px;line-height:11.5px;font-weight:700;color:#000;transform:scaleX(0.785);transform-origin:0 0;-webkit-text-stroke:0px currentColor">Total Temp Work</div>
<div class="t" style="right:423.2px;top:398.77px;font-size:10.75px;line-height:12.36px;font-weight:400;color:#000;transform:scaleX(0.77);transform-origin:100% 0">90540</div>
<div class="t" style="right:383.2px;top:398.77px;font-size:10.75px;line-height:12.36px;font-weight:400;color:#000;transform:scaleX(0.77);transform-origin:100% 0">5</div>
<div class="t" style="right:343.8px;top:398.77px;font-size:10.75px;line-height:12.36px;font-weight:400;color:#000;transform:scaleX(0.77);transform-origin:100% 0">21740</div>
<div class="t" style="right:306.0px;top:398.77px;font-size:10.75px;line-height:12.36px;font-weight:400;color:#000;transform:scaleX(0.77);transform-origin:100% 0">2</div>
<div class="t" style="right:268.0px;top:398.77px;font-size:10.75px;line-height:12.36px;font-weight:400;color:#000;transform:scaleX(0.77);transform-origin:100% 0">79140</div>
<div class="t" style="right:229.3px;top:398.77px;font-size:10.75px;line-height:12.36px;font-weight:400;color:#000;transform:scaleX(0.77);transform-origin:100% 0">10</div>
<div class="t" style="right:192.0px;top:398.77px;font-size:10.75px;line-height:12.36px;font-weight:400;color:#000;transform:scaleX(0.77);transform-origin:100% 0">20660</div>
<div class="t" style="right:154.5px;top:398.77px;font-size:10.75px;line-height:12.36px;font-weight:400;color:#000;transform:scaleX(0.77);transform-origin:100% 0">0</div>
<div class="t" style="right:115.60000000000002px;top:398.77px;font-size:10.75px;line-height:12.36px;font-weight:400;color:#000;transform:scaleX(0.77);transform-origin:100% 0">57595</div>
<div class="t" style="right:78.0px;top:398.77px;font-size:10.75px;line-height:12.36px;font-weight:400;color:#000;transform:scaleX(0.77);transform-origin:100% 0">245</div>
<div class="t" style="right:39.60000000000002px;top:398.77px;font-size:10.75px;line-height:12.36px;font-weight:400;color:#000;transform:scaleX(0.77);transform-origin:100% 0">7770</div>
<div class="t" style="right:2.5px;top:398.77px;font-size:10.75px;line-height:12.36px;font-weight:400;color:#000;transform:scaleX(0.77);transform-origin:100% 0">40</div>
<div class="t" style="left:2px;top:413.14px;font-size:10.0px;line-height:11.5px;font-weight:700;color:#000;transform:scaleX(0.785);transform-origin:0 0;-webkit-text-stroke:0px currentColor">Total</div>
<div class="t" style="right:423.2px;top:412.47px;font-size:10.75px;line-height:12.36px;font-weight:400;color:#000;transform:scaleX(0.77);transform-origin:100% 0">398365</div>
<div class="t" style="right:383.2px;top:412.47px;font-size:10.75px;line-height:12.36px;font-weight:400;color:#000;transform:scaleX(0.77);transform-origin:100% 0">228445</div>
<div class="t" style="right:343.8px;top:412.47px;font-size:10.75px;line-height:12.36px;font-weight:400;color:#000;transform:scaleX(0.77);transform-origin:100% 0">77470</div>
<div class="t" style="right:306.0px;top:412.47px;font-size:10.75px;line-height:12.36px;font-weight:400;color:#000;transform:scaleX(0.77);transform-origin:100% 0">80682</div>
<div class="t" style="right:268.0px;top:412.47px;font-size:10.75px;line-height:12.36px;font-weight:400;color:#000;transform:scaleX(0.77);transform-origin:100% 0">404720</div>
<div class="t" style="right:229.3px;top:412.47px;font-size:10.75px;line-height:12.36px;font-weight:400;color:#000;transform:scaleX(0.77);transform-origin:100% 0">217130</div>
<div class="t" style="right:192.0px;top:412.47px;font-size:10.75px;line-height:12.36px;font-weight:400;color:#000;transform:scaleX(0.77);transform-origin:100% 0">75120</div>
<div class="t" style="right:154.5px;top:412.47px;font-size:10.75px;line-height:12.36px;font-weight:400;color:#000;transform:scaleX(0.77);transform-origin:100% 0">78740</div>
<div class="t" style="right:115.60000000000002px;top:412.47px;font-size:10.75px;line-height:12.36px;font-weight:400;color:#000;transform:scaleX(0.77);transform-origin:100% 0">424005</div>
<div class="t" style="right:78.0px;top:412.47px;font-size:10.75px;line-height:12.36px;font-weight:400;color:#000;transform:scaleX(0.77);transform-origin:100% 0">202245</div>
<div class="t" style="right:39.60000000000002px;top:412.47px;font-size:10.75px;line-height:12.36px;font-weight:400;color:#000;transform:scaleX(0.77);transform-origin:100% 0">79930</div>
<div class="t" style="right:2.5px;top:412.47px;font-size:10.75px;line-height:12.36px;font-weight:400;color:#000;transform:scaleX(0.77);transform-origin:100% 0">72437</div>
<div class="t" style="left:2px;top:428.75px;font-size:10.0px;line-height:11.5px;font-weight:700;color:#000;transform:scaleX(0.785);transform-origin:0 0;-webkit-text-stroke:0px currentColor">Total All</div>
<div class="t" style="left:116.0px;width:200px;text-align:center;top:428.07px;font-size:10.75px;line-height:12.36px;font-weight:700;color:#000;transform:scaleX(0.77);transform-origin:50% 0">784962</div>
<div class="t" style="left:271.25px;width:200px;text-align:center;top:428.07px;font-size:10.75px;line-height:12.36px;font-weight:700;color:#000;transform:scaleX(0.77);transform-origin:50% 0">775710</div>
<div class="t" style="left:423.0px;width:200px;text-align:center;top:428.07px;font-size:10.75px;line-height:12.36px;font-weight:700;color:#000;transform:scaleX(0.77);transform-origin:50% 0">778617</div>
<div style="left:295.5px;top:352px;width:0;height:0;border-top:4px solid #15901a;border-right:4px solid transparent"></div>
<div style="left:333.5px;top:352px;width:0;height:0;border-top:3.5px solid #15901a;border-right:3.5px solid transparent"></div>
<div style="left:372.5px;top:352px;width:0;height:0;border-top:3.5px solid #15901a;border-right:3.5px solid transparent"></div>
<div style="left:409.5px;top:352px;width:0;height:0;border-top:3.5px solid #15901a;border-right:3.5px solid transparent"></div>
<div style="left:448px;top:352px;width:0;height:0;border-top:3.5px solid #15901a;border-right:3.5px solid transparent"></div>
<div style="left:485.5px;top:352px;width:0;height:0;border-top:3.5px solid #15901a;border-right:3.5px solid transparent"></div>
<div style="left:523.5px;top:352px;width:0;height:0;border-top:3.5px solid #15901a;border-right:3.5px solid transparent"></div>
<div style="left:561.5px;top:352px;width:0;height:0;border-top:3.5px solid #15901a;border-right:3.5px solid transparent"></div>
<div style="left:295.5px;top:367px;width:0;height:0;border-top:4px solid #15901a;border-right:4px solid transparent"></div>
<div style="left:333.5px;top:367px;width:0;height:0;border-top:3.5px solid #15901a;border-right:3.5px solid transparent"></div>
<div style="left:372.5px;top:367px;width:0;height:0;border-top:3.5px solid #15901a;border-right:3.5px solid transparent"></div>
<div style="left:409.5px;top:367px;width:0;height:0;border-top:3.5px solid #15901a;border-right:3.5px solid transparent"></div>
<div style="left:448px;top:367px;width:0;height:0;border-top:3.5px solid #15901a;border-right:3.5px solid transparent"></div>
<div style="left:485.5px;top:367px;width:0;height:0;border-top:3.5px solid #15901a;border-right:3.5px solid transparent"></div>
<div style="left:523.5px;top:367px;width:0;height:0;border-top:3.5px solid #15901a;border-right:3.5px solid transparent"></div>
<div style="left:561.5px;top:367px;width:0;height:0;border-top:3.5px solid #15901a;border-right:3.5px solid transparent"></div>
<div style="left:448px;top:382px;width:0;height:0;border-top:3.5px solid #15901a;border-right:3.5px solid transparent"></div>
<div style="left:295.5px;top:397px;width:0;height:0;border-top:4px solid #15901a;border-right:4px solid transparent"></div>
<div class="t" style="left:116.0px;width:200px;text-align:center;top:32.59px;font-size:12.6px;line-height:14.49px;font-weight:700;color:#000;transform:scaleX(0.93);transform-origin:50% 0">2007</div>
<div class="t" style="left:271.25px;width:200px;text-align:center;top:32.59px;font-size:12.6px;line-height:14.49px;font-weight:700;color:#000;transform:scaleX(0.93);transform-origin:50% 0">2008</div>
<div class="t" style="left:423.0px;width:200px;text-align:center;top:32.59px;font-size:12.6px;line-height:14.49px;font-weight:700;color:#000;transform:scaleX(0.93);transform-origin:50% 0">2009</div>
<div class="t rot" style="left:154.90px;top:88px;font-size:11.7px">Main Entry</div>
<div class="t rot" style="left:203.40px;top:88px;font-size:11.7px">Main</div>
<div class="t rot" style="left:188.10px;top:88px;font-size:11.7px">Extensions</div>
<div class="t rot" style="left:242.50px;top:88px;font-size:11.7px;letter-spacing:2.85px">Dependent</div>
<div class="t rot" style="left:228.10px;top:89.5px;font-size:11.7px">Entry</div>
<div class="t rot" style="left:280.90px;top:88px;font-size:11.7px;letter-spacing:2.85px">Dependent</div>
<div class="t rot" style="left:266.40px;top:88px;font-size:11.7px">Extensions</div>
<div class="t rot" style="left:312.60px;top:88px;font-size:11.7px">Main Entry</div>
<div class="t rot" style="left:357.40px;top:88px;font-size:11.7px">Main</div>
<div class="t rot" style="left:342.80px;top:88px;font-size:11.7px">Extensions</div>
<div class="t rot" style="left:395.50px;top:88px;font-size:11.7px;letter-spacing:2.85px">Dependent</div>
<div class="t rot" style="left:380.90px;top:89.5px;font-size:11.7px">Entry</div>
<div class="t rot" style="left:434.30px;top:88px;font-size:11.7px;letter-spacing:2.85px">Dependent</div>
<div class="t rot" style="left:418.80px;top:88px;font-size:11.7px">Extensions</div>
<div class="t rot" style="left:464.30px;top:88px;font-size:11.7px">Main Entry</div>
<div class="t rot" style="left:509.30px;top:88px;font-size:11.7px">Main</div>
<div class="t rot" style="left:494.30px;top:88px;font-size:11.7px">Extensions</div>
<div class="t rot" style="left:547.40px;top:88px;font-size:11.7px;letter-spacing:2.85px">Dependent</div>
<div class="t rot" style="left:532.70px;top:89.5px;font-size:11.7px">Entry</div>
<div class="t rot" style="left:586.30px;top:88px;font-size:11.7px;letter-spacing:2.85px">Dependent</div>
<div class="t rot" style="left:570.80px;top:88px;font-size:11.7px">Extensions</div>
</body></html>
